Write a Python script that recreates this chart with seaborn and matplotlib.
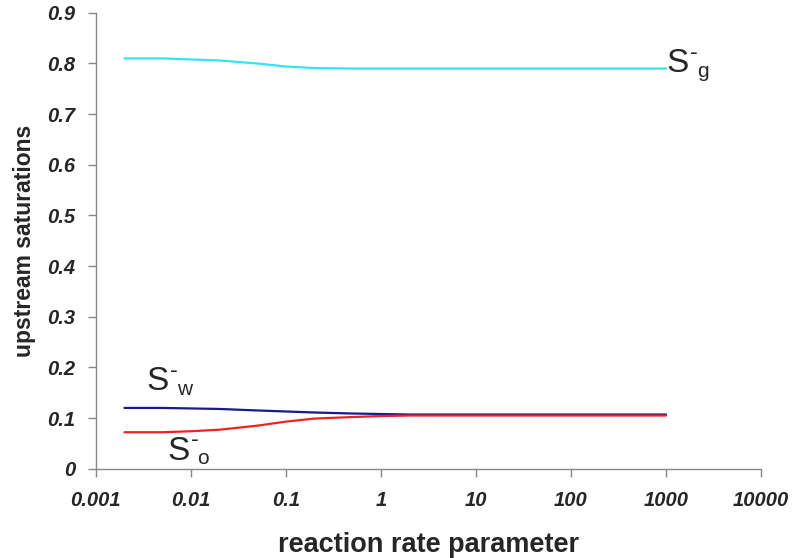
import seaborn as sns
import matplotlib.pyplot as plt
import pandas as pd

# values
rate = [0.002, 0.005, 0.01, 0.02, 0.05, 0.1, 0.2, 0.5, 1, 2, 10, 100, 1000]
s_gas = [0.810, 0.810, 0.808, 0.806, 0.800, 0.794, 0.791, 0.790, 0.790, 0.790, 0.790, 0.790, 0.790]
s_water = [0.120, 0.120, 0.119, 0.118, 0.115, 0.113, 0.111, 0.109, 0.108, 0.107, 0.107, 0.107, 0.107]
s_oil = [0.072, 0.072, 0.074, 0.077, 0.085, 0.093, 0.099, 0.102, 0.104, 0.105, 0.105, 0.105, 0.105]

x_ticks = [0.001, 0.01, 0.1, 1, 10, 100, 1000, 10000]
x_tick_labels = ['0.001', '0.01', '0.1', '1', '10', '100', '1000', '10000']
y_ticks = [0, 0.1, 0.2, 0.3, 0.4, 0.5, 0.6, 0.7, 0.8, 0.9]
y_tick_labels = ['0', '0.1', '0.2', '0.3', '0.4', '0.5', '0.6', '0.7', '0.8', '0.9']

# curve labels: subscript, anchor of the "S"
curve_labels = ['g', 'w', 'o']
label_x = [1020, 0.00344, 0.0057]
label_y = [0.783, 0.156, 0.018]

df = pd.DataFrame({
    'rate': rate * 3,
    'saturation': s_gas + s_water + s_oil,
    'phase': ['gas'] * len(rate) + ['water'] * len(rate) + ['oil'] * len(rate),
})

sns.set_style("white")
plt.rcParams['font.family'] = ['Liberation Sans', 'DejaVu Sans']

fig = plt.figure(figsize=(7.92, 5.58), dpi=100)
ax = fig.add_axes([0.121, 0.16, 0.84, 0.817])

sns.lineplot(data=df, x='rate', y='saturation', hue='phase',
             palette={'gas': '#33e6ee', 'water': '#1a1a8c', 'oil': '#ee2222'},
             linewidth=1.6, legend=False, ax=ax)

ax.set_xscale('log')
ax.set_xlim(0.001, 10000)
ax.set_ylim(0, 0.9)
ax.set_xticks(x_ticks)
ax.set_xticklabels(x_tick_labels)
ax.minorticks_off()
ax.set_yticks(y_ticks)
ax.set_yticklabels(y_tick_labels)

for lab in ax.get_xticklabels() + ax.get_yticklabels():
    lab.set_fontweight('bold')
    lab.set_fontstyle('italic')
    lab.set_fontsize(14.5)

ax.tick_params(axis='both', direction='out', length=6, width=1, color='#888888',
               bottom=True, left=True)
ax.tick_params(axis='x', pad=10)
ax.tick_params(axis='y', pad=9)
for side in ['top', 'right']:
    ax.spines[side].set_visible(False)
for side in ['left', 'bottom']:
    ax.spines[side].set_color('#888888')
    ax.spines[side].set_linewidth(1)

ax.set_xlabel('reaction rate parameter', fontsize=19.5, fontweight='bold', labelpad=16)
ax.set_ylabel('upstream saturations', fontsize=16.5, fontweight='bold', labelpad=8)

# "S" with a small hyphen above and the phase letter below, like the original
for sub, lx, ly in zip(curve_labels, label_x, label_y):
    ax.annotate('S', xy=(lx, ly), fontsize=24, va='baseline', ha='left')
    ax.annotate('-', xy=(lx, ly), xytext=(16.5, 9.5), textcoords='offset points',
                fontsize=17, va='baseline', ha='left')
    ax.annotate(sub, xy=(lx, ly), xytext=(21.5, -3.5), textcoords='offset points',
                fontsize=15, va='baseline', ha='left')

plt.savefig('out.png', dpi=100)
